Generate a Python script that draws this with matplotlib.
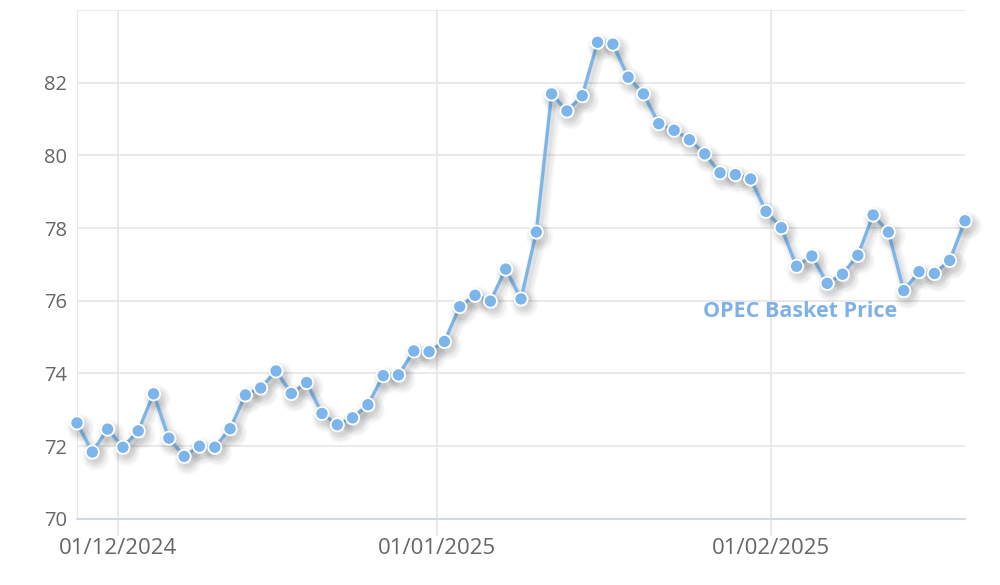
import numpy as np
import pandas as pd
import matplotlib
matplotlib.use("Agg")
import matplotlib.pyplot as plt
import matplotlib.patheffects as pe

# trading days shown on the chart (ordinal axis, no weekends/holidays)
dates = [
    "2024-11-27", "2024-11-28", "2024-11-29",
    "2024-12-02", "2024-12-03", "2024-12-04", "2024-12-05", "2024-12-06",
    "2024-12-09", "2024-12-10", "2024-12-11", "2024-12-12", "2024-12-13",
    "2024-12-16", "2024-12-17", "2024-12-18", "2024-12-19", "2024-12-20",
    "2024-12-23", "2024-12-24", "2024-12-26", "2024-12-27",
    "2024-12-30", "2024-12-31",
    "2025-01-02", "2025-01-03",
    "2025-01-06", "2025-01-07", "2025-01-08", "2025-01-09", "2025-01-10",
    "2025-01-13", "2025-01-14", "2025-01-15", "2025-01-16", "2025-01-17",
    "2025-01-20", "2025-01-21", "2025-01-22", "2025-01-23", "2025-01-24",
    "2025-01-27", "2025-01-28", "2025-01-29", "2025-01-30", "2025-01-31",
    "2025-02-03", "2025-02-04", "2025-02-05", "2025-02-06", "2025-02-07",
    "2025-02-10", "2025-02-11", "2025-02-12", "2025-02-13", "2025-02-14",
    "2025-02-17", "2025-02-18", "2025-02-19",
]

prices = [
    72.64, 71.84, 72.47, 71.97, 72.42, 73.44, 72.22, 71.72, 72.00, 71.97,
    72.48, 73.41, 73.60, 74.07, 73.45, 73.75, 72.90, 72.59, 72.78, 73.14,
    73.94, 73.96, 74.62, 74.60, 74.88, 75.84, 76.15, 75.99, 76.87, 76.05,
    77.89, 81.69, 81.22, 81.64, 83.11, 83.06, 82.15, 81.69, 80.87, 80.69,
    80.43, 80.04, 79.52, 79.47, 79.35, 78.46, 78.01, 76.95, 77.23, 76.48,
    76.73, 77.25, 78.36, 77.89, 76.28, 76.80, 76.75, 77.11, 78.20,
]

tick_dates = ["2024-12-01", "2025-01-01", "2025-02-01"]
tick_labels = ["01/12/2024", "01/01/2025", "01/02/2025"]
y_ticks = [70, 72, 74, 76, 78, 80, 82, 84]
series_name = "OPEC Basket Price"

LINE = "#7cb5ec"
GRID = "#e6e6e6"
TEXT = "#666666"

d = pd.to_datetime(dates)
idx = np.arange(len(prices))
# place date ticks on the ordinal axis between the neighbouring trading days
tick_pos = np.interp(pd.to_datetime(tick_dates).map(pd.Timestamp.toordinal),
                     d.map(pd.Timestamp.toordinal), idx)

plt.rcParams["font.family"] = ["Open Sans", "DejaVu Sans"]

fig = plt.figure(figsize=(10, 5.85), dpi=100)
ax = fig.add_axes([0.077, 0.113, 0.888, 0.870])

shadow = [
    pe.SimpleLineShadow(offset=(2.5, -3.5), shadow_color="k", alpha=0.03, linewidth=10),
    pe.SimpleLineShadow(offset=(2.5, -3.5), shadow_color="k", alpha=0.04, linewidth=7),
    pe.SimpleLineShadow(offset=(2, -3), shadow_color="k", alpha=0.05, linewidth=4),
    pe.Normal(),
]
ax.plot(idx, prices, color=LINE, linewidth=2.4, marker="o", markersize=9.5,
        markerfacecolor=LINE, markeredgecolor="white", markeredgewidth=1.3,
        path_effects=shadow, zorder=3, clip_on=False)

ax.text(47.2, 75.7, series_name, color="#7fb1e6", fontsize=15.5,
        fontweight="bold", ha="center", va="center", zorder=4)

ax.set_xlim(0, len(prices) - 1)
ax.set_ylim(70, 84)
ax.set_yticks(y_ticks)
ax.set_yticklabels([str(v) if v != 84 else "" for v in y_ticks])
ax.set_xticks(tick_pos)
ax.set_xticklabels(tick_labels)

ax.grid(True, axis="both", color=GRID, linewidth=1.2)
ax.set_axisbelow(True)
ax.tick_params(axis="y", length=0, pad=7, labelsize=14.5, labelcolor=TEXT)
ax.tick_params(axis="x", length=12, width=1.2, color=GRID, pad=2,
               labelsize=16, labelcolor=TEXT)

for s in ["top", "right"]:
    ax.spines[s].set_visible(False)
ax.spines["left"].set_color(GRID)
ax.spines["bottom"].set_color("#ccd6eb")
ax.spines["bottom"].set_linewidth(1.3)

fig.savefig("out.png", dpi=100, facecolor="white")
